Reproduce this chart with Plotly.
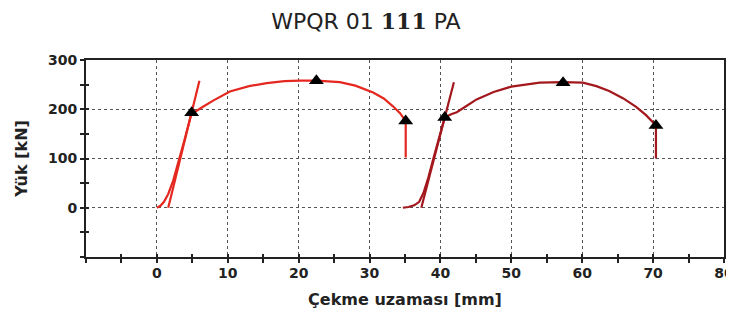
import plotly.graph_objects as go

# ---- data ----
c1_x = [0.0, 0.5, 1.0, 1.6, 2.3, 3.0, 3.9, 4.9, 5.4, 6.5, 8.0, 10.3, 13.0, 15.5, 18.0, 20.2, 22.5, 25.8, 28.0, 30.5, 32.0, 33.3, 34.3, 35.1, 35.1]
c1_y = [0, 4, 12, 28, 55, 90, 138, 193, 195, 205, 218, 236, 247, 253, 257, 258, 258, 255, 248, 234, 222, 206, 192, 176, 102]
l1_x = [1.6, 6.0]
l1_y = [0, 258]

c2_x = [34.7, 35.5, 36.3, 37.0, 37.6, 38.3, 39.0, 39.8, 40.6, 41.5, 42.3, 43.5, 45.1, 47.5, 50.0, 54.0, 57.3, 60.1, 62.0, 63.8, 65.8, 67.6, 69.0, 70.4, 70.4]
c2_y = [0, 1.5, 5, 12, 30, 62, 100, 140, 183, 190, 194, 205, 220, 235, 246, 254, 255, 254, 247, 237, 222, 205, 188, 167, 100]
l2_x = [37.3, 41.9]
l2_y = [0, 255]

tri_x = [4.9, 22.5, 35.1, 40.6, 57.3, 70.4]
tri_y = [193, 258, 176, 183, 254, 167]

x_ticks = [0, 10, 20, 30, 40, 50, 60, 70, 80]
y_ticks = [0, 100, 200, 300]
x_range = [-10, 80]
y_range = [-100, 300]

RED1 = "#e5281f"
RED2 = "#a3181d"

fig = go.Figure()
fig.add_trace(go.Scatter(x=c1_x, y=c1_y, mode="lines", line=dict(color=RED1, width=2.2), showlegend=False))
fig.add_trace(go.Scatter(x=l1_x, y=l1_y, mode="lines", line=dict(color=RED1, width=2.2), showlegend=False))
fig.add_trace(go.Scatter(x=c2_x, y=c2_y, mode="lines", line=dict(color=RED2, width=2.2), showlegend=False))
fig.add_trace(go.Scatter(x=l2_x, y=l2_y, mode="lines", line=dict(color=RED2, width=2.2), showlegend=False))
fig.add_trace(go.Scatter(x=tri_x, y=tri_y, mode="markers",
                         marker=dict(symbol="triangle-up", size=13, color="black"), showlegend=False))
# invisible trace so the overlay axes (inner half of the crossing ticks) are drawn
fig.add_trace(go.Scatter(x=[x_range[0]], y=[y_range[0]], xaxis="x2", yaxis="y2", mode="markers",
                         marker=dict(size=1, opacity=0), hoverinfo="skip", showlegend=False))

tickfont = dict(family="DejaVu Sans", size=14, color="#222", weight="bold")
axfont = dict(family="DejaVu Sans", size=16, color="#222", weight="bold")
grid = dict(showgrid=True, gridcolor="#555", gridwidth=1.3, griddash="dot")

# the page adds an 8px body margin, so the figure is 8px smaller than the window
fig.update_layout(
    width=726, height=312,
    margin=dict(l=78, r=10, t=52, b=63, autoexpand=False),
    paper_bgcolor="white", plot_bgcolor="white",
    title=dict(text="WPQR 01 <span style='font-family:DejaVu Serif'><b>111</b></span> PA",
               x=0.493, xanchor="center", xref="container", y=0.958, yanchor="middle", automargin=False,
               font=dict(family="DejaVu Sans", size=22, color="#222")),
    xaxis=dict(range=x_range, tickvals=x_ticks, ticks="outside", ticklen=4, tickwidth=2,
               tickcolor="#222", minor=dict(dtick=5, tick0=0, ticks="outside", ticklen=4, tickwidth=2, tickcolor="#222", showgrid=False),
               showline=True, linecolor="#222", linewidth=2, mirror=True, zeroline=False, automargin=False,
               ticklabelstandoff=-2,
               tickfont=tickfont, title=dict(text="Çekme uzaması [mm]", font=axfont, standoff=14),
               **grid),
    yaxis=dict(range=y_range, tickvals=y_ticks, ticks="outside", ticklen=4, tickwidth=2,
               tickcolor="#222", minor=dict(dtick=50, tick0=0, ticks="outside", ticklen=4, tickwidth=2, tickcolor="#222", showgrid=False),
               showline=True, linecolor="#222", linewidth=2, mirror=True, zeroline=False, automargin=False,
               tickfont=tickfont, title=dict(text="Yük [kN]", font=axfont, standoff=16),
               **grid),
    xaxis2=dict(overlaying="x", anchor="y", side="bottom", range=x_range, dtick=5, tick0=0,
                ticks="inside", ticklen=3, tickwidth=2, tickcolor="#222", showticklabels=False,
                showgrid=False, zeroline=False, showline=False, automargin=False),
    yaxis2=dict(overlaying="y", anchor="x", side="left", range=y_range, dtick=50, tick0=0,
                ticks="inside", ticklen=3, tickwidth=2, tickcolor="#222", showticklabels=False,
                showgrid=False, zeroline=False, showline=False, automargin=False),
)

fig.write_html("out.html")
